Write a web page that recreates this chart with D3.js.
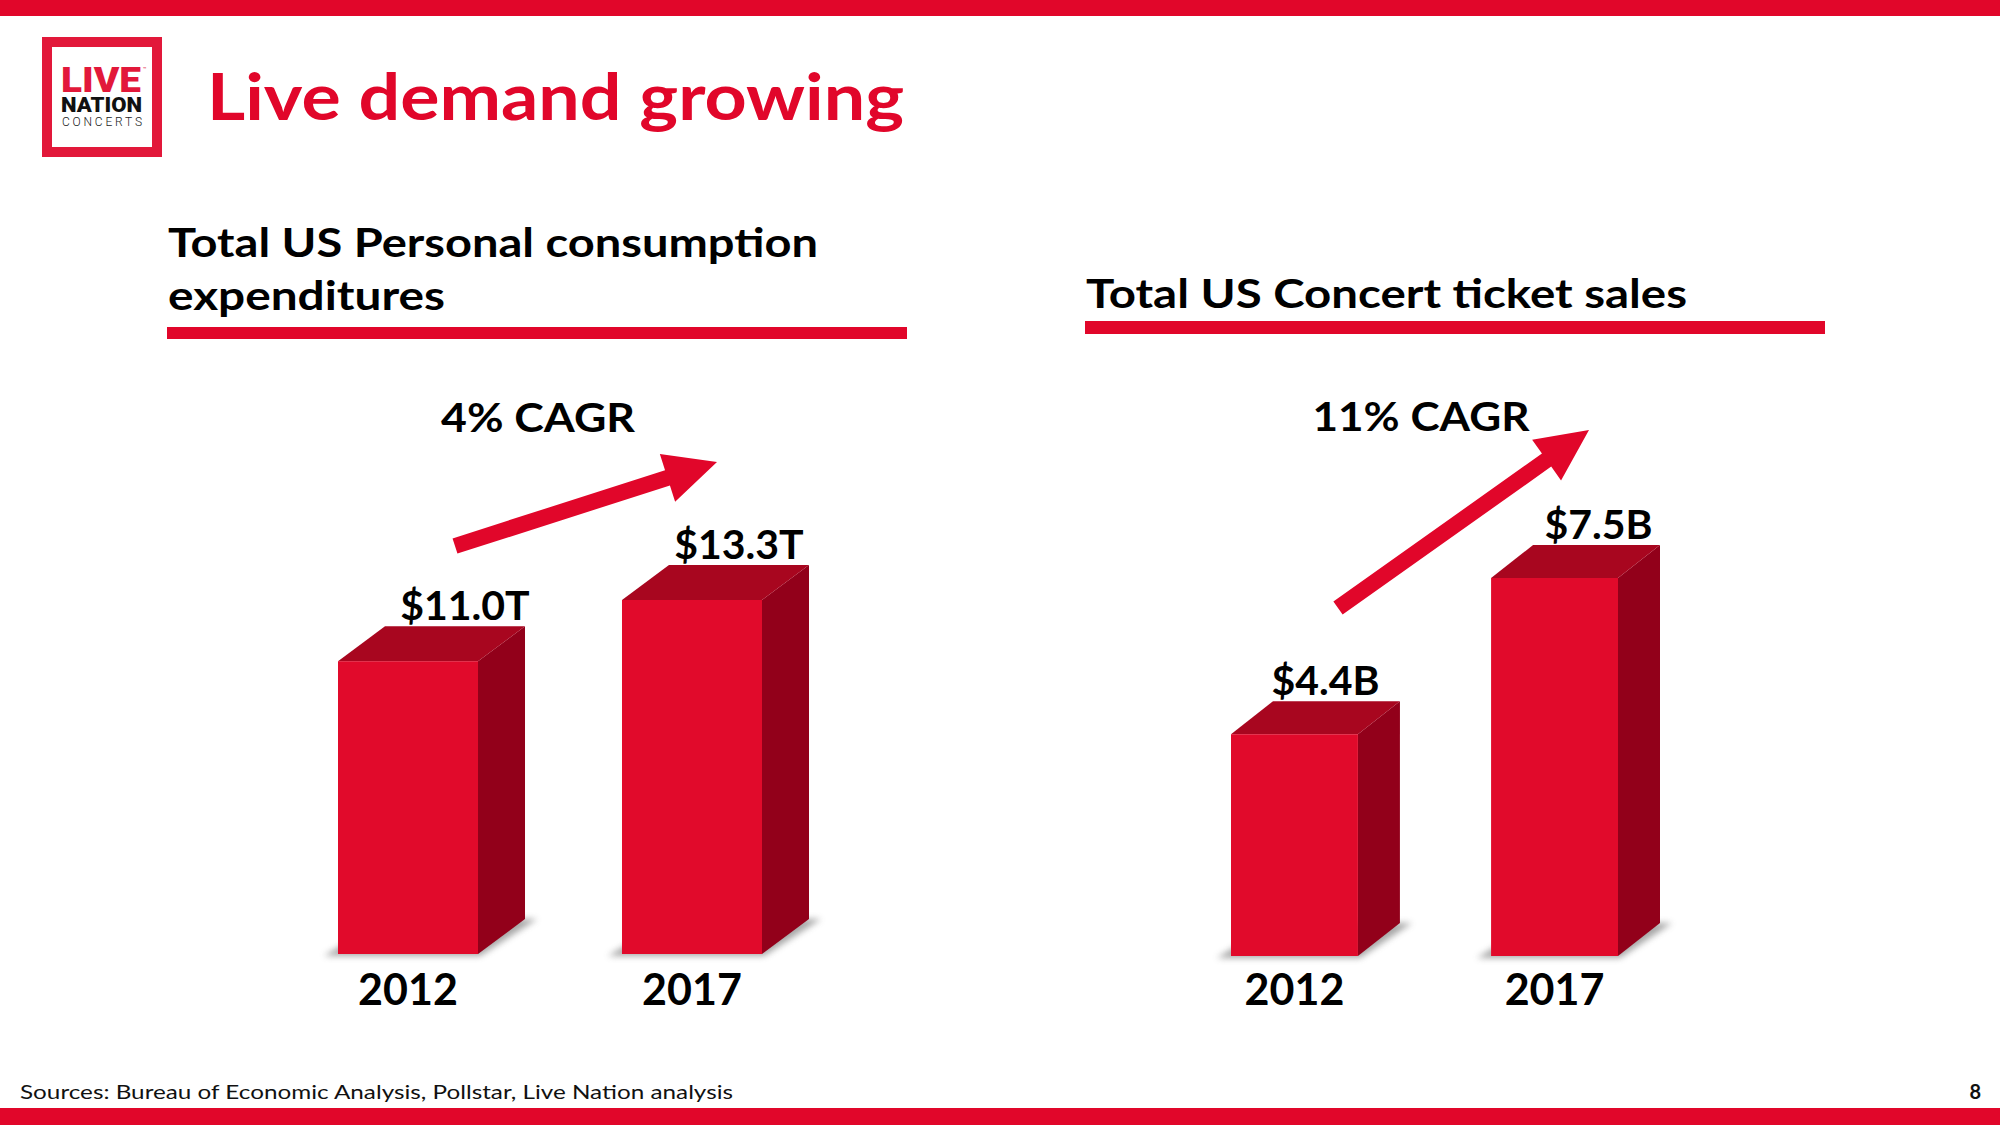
<!DOCTYPE html>
<html><head><meta charset="utf-8">
<script src="https://cdnjs.cloudflare.com/ajax/libs/d3/7.8.5/d3.min.js"></script>
<style>html,body{margin:0;padding:0;background:#fff;overflow:hidden}svg{display:block}</style>
</head><body>
<script>
// ---------------- data ----------------
const leftCategories = ["2012", "2017"];
const leftValues = [11.0, 13.3];
const leftValueLabels = ["$11.0T", "$13.3T"];
const leftTitleLines = ["Total US Personal consumption", "expenditures"];
const leftCagr = "4% CAGR";

const rightCategories = ["2012", "2017"];
const rightValues = [4.4, 7.5];
const rightValueLabels = ["$4.4B", "$7.5B"];
const rightTitleLines = ["Total US Concert ticket sales"];
const rightCagr = "11% CAGR";

const pageTitle = "Live demand growing";
const sourceNote = "Sources: Bureau of Economic Analysis, Pollstar, Live Nation analysis";
const pageNumber = "8";

// ---------------- layout / style ----------------
const W = 2000, H = 1125;
const RED = "#E1062A";
const FRONT = "#E10A2B", TOP = "#A8061F", SIDE = "#92001A";
const FONT = "Lato, 'Open Sans', sans-serif";

const svg = d3.select("body").append("svg").attr("width", W).attr("height", H);
const defs = svg.append("defs");
defs.append("filter").attr("id", "shadowBlur").attr("x", "-20%").attr("y", "-50%").attr("width", "140%").attr("height", "200%")
  .append("feGaussianBlur").attr("stdDeviation", 3);

svg.append("rect").attr("width", W).attr("height", H).attr("fill", "#fff");
// top & bottom bands
svg.append("rect").attr("x", 0).attr("y", 0).attr("width", W).attr("height", 16).attr("fill", RED);
svg.append("rect").attr("x", 0).attr("y", 1108).attr("width", W).attr("height", 17).attr("fill", RED);

// logo
const logo = svg.append("g");
logo.append("rect").attr("x", 47).attr("y", 42).attr("width", 110).attr("height", 110)
  .attr("fill", "#fff").attr("stroke", "#E2183A").attr("stroke-width", 10);
logo.append("text").attr("x", 61).attr("y", 92).text("LIVE")
  .attr("font-family", "Roboto, sans-serif").attr("font-weight", 900).attr("font-size", 35)
  .attr("fill", "#E2183A").attr("textLength", 80).attr("lengthAdjust", "spacingAndGlyphs");
logo.append("text").attr("x", 143).attr("y", 71).text("™")
  .attr("font-family", "Roboto, sans-serif").attr("font-size", 6).attr("fill", "#E2183A");
logo.append("text").attr("x", 61).attr("y", 112).text("NATION")
  .attr("font-family", "Roboto, sans-serif").attr("font-weight", 900).attr("font-size", 20)
  .attr("fill", "#111").attr("textLength", 81).attr("lengthAdjust", "spacingAndGlyphs");
logo.append("text").attr("x", 62).attr("y", 126).text("CONCERTS")
  .attr("font-family", "Roboto, sans-serif").attr("font-weight", 300).attr("font-size", 12)
  .attr("fill", "#222").attr("textLength", 80).attr("lengthAdjust", "spacing");

// page title
svg.append("text").attr("x", 207).attr("y", 120).text(pageTitle)
  .attr("font-family", FONT).attr("font-weight", 700).attr("font-size", 65).attr("fill", RED)
  .attr("textLength", 697).attr("lengthAdjust", "spacingAndGlyphs");

// footer
svg.append("text").attr("x", 20).attr("y", 1099).text(sourceNote)
  .attr("font-family", FONT).attr("font-size", 20).attr("fill", "#111")
  .attr("textLength", 713).attr("lengthAdjust", "spacingAndGlyphs");
svg.append("text").attr("x", 1981).attr("y", 1099).attr("text-anchor", "end").text(pageNumber)
  .attr("font-family", FONT).attr("font-weight", 700).attr("font-size", 20).attr("fill", "#111");

function arrowPoints(from, to, shaft, headLen, headHalf) {
  const dx = to[0] - from[0], dy = to[1] - from[1], L = Math.hypot(dx, dy);
  const ux = dx / L, uy = dy / L, nx = -uy, ny = ux;
  const bx = to[0] - ux * headLen, by = to[1] - uy * headLen;
  const p = (x, y, k) => [x + nx * k, y + ny * k];
  return [p(from[0], from[1], shaft / 2), p(bx, by, shaft / 2), p(bx, by, headHalf), to,
          p(bx, by, -headHalf), p(bx, by, -shaft / 2), p(from[0], from[1], -shaft / 2)];
}

function drawPanel(cfg) {
  const g = svg.append("g");
  // title lines
  cfg.titleLines.forEach((t, i) => {
    g.append("text").attr("x", cfg.titleX).attr("y", cfg.titleBaselines[i]).text(t)
      .attr("font-family", FONT).attr("font-weight", 700).attr("font-size", 41).attr("fill", "#000")
      .attr("textLength", cfg.titleWidths[i]).attr("lengthAdjust", "spacingAndGlyphs");
  });
  g.append("rect").attr("x", cfg.underline[0]).attr("y", cfg.underline[1])
    .attr("width", cfg.underline[2]).attr("height", cfg.underline[3]).attr("fill", RED);

  const x = d3.scaleBand().domain(cfg.categories).range(cfg.xRange).paddingInner(cfg.padInner).paddingOuter(0);
  const y = d3.scaleLinear().domain([0, cfg.yMax]).range([cfg.baseline, cfg.yTop]);
  const bw = x.bandwidth(), dx = cfg.depth[0], dy = cfg.depth[1];
  const data = cfg.categories.map((c, i) => ({ c, v: cfg.values[i], label: cfg.labels[i], i }));

  const bars = g.selectAll("g.bar").data(data).join("g").attr("class", "bar");
  // shadow
  bars.append("polygon").attr("filter", "url(#shadowBlur)").attr("fill", "#8a8a8a").attr("opacity", 0.75)
    .attr("points", d => {
      const x0 = x(d.c), x1 = x0 + bw, yb = y(0);
      return [[x0 - 14, yb + 2], [x1 + 2, yb + 2], [x1 + dx + 12, yb + dy], [x0 + dx, yb + dy]].join(" ");
    });
  // side
  bars.append("polygon").attr("fill", SIDE).attr("points", d => {
    const x1 = x(d.c) + bw, yt = y(d.v), yb = y(0);
    return [[x1, yt], [x1 + dx, yt + dy], [x1 + dx, yb + dy], [x1, yb]].join(" ");
  });
  // top
  bars.append("polygon").attr("fill", TOP).attr("points", d => {
    const x0 = x(d.c), x1 = x0 + bw, yt = y(d.v);
    return [[x0, yt], [x0 + dx, yt + dy], [x1 + dx, yt + dy], [x1, yt]].join(" ");
  });
  // front
  bars.append("rect").attr("fill", FRONT)
    .attr("x", d => x(d.c)).attr("y", d => y(d.v)).attr("width", bw).attr("height", d => y(0) - y(d.v));
  // value labels
  bars.append("text").text(d => d.label)
    .attr("x", d => x(d.c) + dx + bw / 2 + cfg.labelNudge[d.i]).attr("y", d => y(d.v) + dy - 6)
    .attr("text-anchor", "middle").attr("font-family", FONT).attr("font-weight", 700)
    .attr("font-size", 41).attr("fill", "#000");
  // category labels
  bars.append("text").text(d => d.c)
    .attr("x", d => x(d.c) + bw / 2).attr("y", cfg.catBaseline)
    .attr("text-anchor", "middle").attr("font-family", FONT).attr("font-weight", 700)
    .attr("font-size", 43).attr("fill", "#000");

  // CAGR arrow + label
  g.append("polygon").attr("fill", RED)
    .attr("points", arrowPoints(cfg.arrow[0], cfg.arrow[1], 16, 52, 25).map(p => p.join(",")).join(" "));
  g.append("text").text(cfg.cagr).attr("x", cfg.cagrPos[0]).attr("y", cfg.cagrPos[1])
    .attr("text-anchor", "middle").attr("font-family", FONT).attr("font-weight", 700)
    .attr("font-size", 41).attr("fill", "#000")
    .attr("textLength", cfg.cagrWidth).attr("lengthAdjust", "spacingAndGlyphs");
}

drawPanel({
  categories: leftCategories, values: leftValues, labels: leftValueLabels,
  titleLines: leftTitleLines, cagr: leftCagr,
  titleX: 168, titleBaselines: [257, 310], titleWidths: [650, 277],
  underline: [167, 327, 740, 12],
  xRange: [338, 762], padInner: 0.507, yMax: 13.3, baseline: 954, yTop: 600,
  depth: [47, -35], labelNudge: [10, 0], catBaseline: 1005,
  arrow: [[455, 546], [717, 462]], cagrPos: [538, 432], cagrWidth: 194
});

drawPanel({
  categories: rightCategories, values: rightValues, labels: rightValueLabels,
  titleLines: rightTitleLines, cagr: rightCagr,
  titleX: 1086, titleBaselines: [308], titleWidths: [601],
  underline: [1085, 321, 740, 13],
  xRange: [1231, 1618], padInner: 0.512, yMax: 7.5, baseline: 956, yTop: 578,
  depth: [42, -33], labelNudge: [-11, 2], catBaseline: 1005,
  arrow: [[1338, 608], [1589, 430]], cagrPos: [1421, 431], cagrWidth: 217
});
</script>
</body></html>
